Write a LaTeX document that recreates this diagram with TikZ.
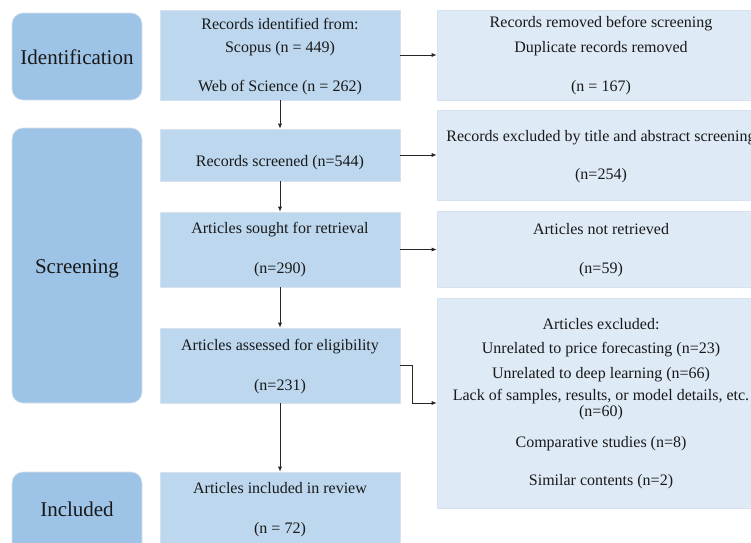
\documentclass[tikz,border=0pt]{standalone}
\usepackage{fontspec}
\setmainfont{Liberation Serif}
\usetikzlibrary{arrows.meta,positioning}
\definecolor{phasecol}{RGB}{157,195,230}
\definecolor{midcol}{RGB}{189,215,238}
\definecolor{rightcol}{RGB}{222,234,246}
\definecolor{edgecol}{RGB}{215,226,238}
\definecolor{txtcol}{RGB}{25,25,25}
\tikzset{
  phasebox/.style={fill=phasecol, draw=edgecol, line width=0.6pt, rounded corners=11pt, inner sep=0pt},
  midbox/.style={fill=midcol, draw=edgecol, line width=0.6pt, inner sep=0pt},
  rightbox/.style={fill=rightcol, draw=edgecol, line width=0.6pt, inner sep=0pt},
  txt/.style={font=\fontsize{16}{18}\selectfont, text=txtcol, inner sep=0pt, text height=16pt, text depth=3pt},
  phasetxt/.style={font=\fontsize{21}{24}\selectfont, text=txtcol, inner sep=0pt, text height=19pt, text depth=4pt},
  arr/.style={-{Latex[length=5pt,width=4pt]}, line width=0.7pt, black!85}
}
\begin{document}
\begin{tikzpicture}[x=1pt,y=-1pt]
\useasboundingbox (0,0) rectangle (751,542);
\clip (0,0) rectangle (751,542);
\fill[white] (0,0) rectangle (751,542);
% phase boxes
\node[phasebox, minimum width=130pt, minimum height=87pt] (p1) at (77,56.5) {};
\node[phasebox, minimum width=130pt, minimum height=275pt] (p2) at (77,265.5) {};
\node[phasebox, minimum width=130pt, minimum height=90pt] (p3) at (77,517) {};
\node[phasetxt] (p1t) at (77,57) {Identification};
\node[phasetxt] (p2t) at (77,266) {Screening};
\node[phasetxt] (p3t) at (77,509) {Included};
% middle boxes
\node[midbox, minimum width=240pt, minimum height=90pt] (b1) at (280,55) {};
\node[midbox, minimum width=240pt, minimum height=52pt] (b2) at (280,155) {};
\node[midbox, minimum width=240pt, minimum height=75pt] (b3) at (280,249.5) {};
\node[midbox, minimum width=240pt, minimum height=75pt] (b4) at (280,365.5) {};
\node[midbox, minimum width=240pt, minimum height=80pt] (b5) at (280,512) {};
% right boxes
\node[rightbox, minimum width=328pt, minimum height=90pt] (r1) at (601,55) {};
\node[rightbox, minimum width=328pt, minimum height=90pt] (r2) at (601,155) {};
\node[rightbox, minimum width=328pt, minimum height=76pt] (r3) at (601,249.5) {};
\node[rightbox, minimum width=328pt, minimum height=210pt] (r4) at (601,403) {};
% middle texts
\node[txt] (b1a) at (280,23) {Records identified from:};
\node[txt] (b1b) at (280,46) {Scopus (n = 449)};
\node[txt] (b1c) at (280,85) {Web of Science (n = 262)};
\node[txt] (b2a) at (280,160) {Records screened (n=544)};
\node[txt] (b3a) at (280,227) {Articles sought for retrieval};
\node[txt] (b3b) at (280,267) {(n=290)};
\node[txt] (b4a) at (280,344) {Articles assessed for eligibility};
\node[txt] (b4b) at (280,384) {(n=231)};
\node[txt] (b5a) at (280,487) {Articles included in review};
\node[txt] (b5b) at (280,527) {(n = 72)};
% right texts
\node[txt] (r1a) at (601,21) {Records removed before screening};
\node[txt] (r1b) at (601,46) {Duplicate records removed};
\node[txt] (r1c) at (601,85) {(n = 167)};
\node[txt] (r2a) at (601,135) {Records excluded by title and abstract screening};
\node[txt] (r2b) at (601,173) {(n=254)};
\node[txt] (r3a) at (601,228) {Articles not retrieved};
\node[txt] (r3b) at (601,267) {(n=59)};
\node[txt] (r4a) at (601,323) {Articles excluded:};
\node[txt] (r4b) at (601,347) {Unrelated to price forecasting (n=23)};
\node[txt] (r4c) at (601,372) {Unrelated to deep learning (n=66)};
\node[txt] (r4d) at (601,394) {Lack of samples, results, or model details, etc.};
\node[txt] (r4e) at (601,410) {(n=60)};
\node[txt] (r4f) at (601,441) {Comparative studies (n=8)};
\node[txt] (r4g) at (601,479) {Similar contents (n=2)};
% arrows
\draw[arr] (b1) -- (b2);
\draw[arr] (b2) -- (b3);
\draw[arr] (b3) -- (b4);
\draw[arr] (b4) -- (b5);
\draw[arr] (b1.east) -- (r1.west);
\draw[arr] (b2.east) -- (r2.west);
\draw[arr] (b3.east) -- (r3.west);
\draw[arr] (b4.east) -- ++(12,0) |- (r4.west);
\end{tikzpicture}
\end{document}
